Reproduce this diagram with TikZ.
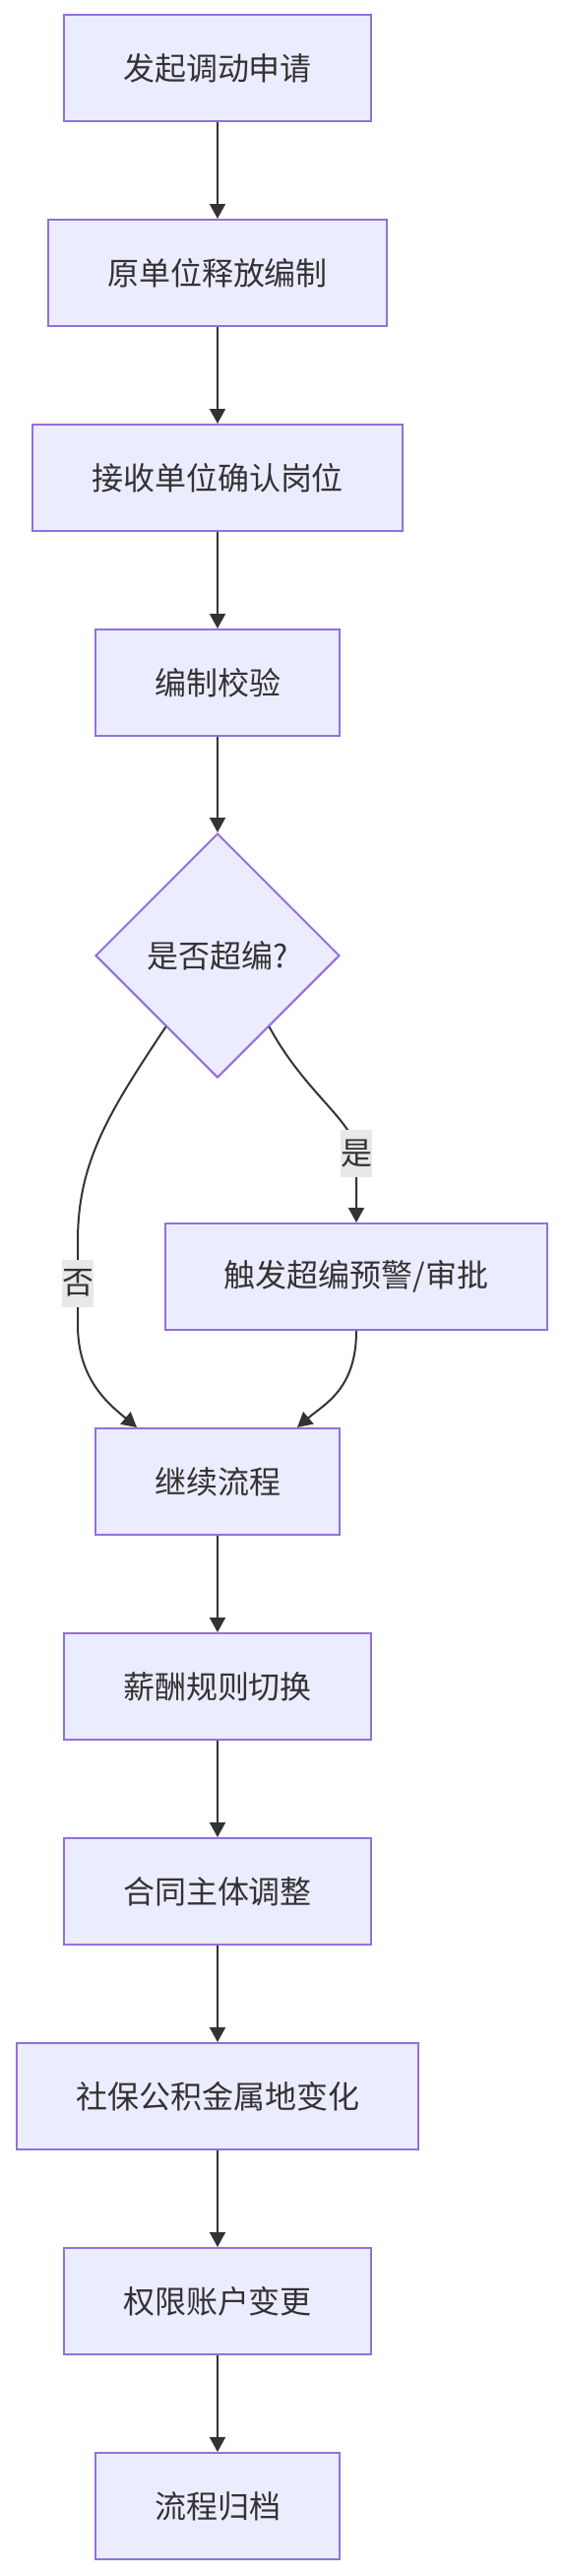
\documentclass[tikz,border=0pt]{standalone}
\usepackage{fontspec}
\setmainfont{Noto Sans CJK SC}
\usetikzlibrary{arrows.meta, shapes.geometric}
\definecolor{node-fill}{HTML}{ECECFF}
\definecolor{node-line}{HTML}{9370DB}
\definecolor{edge-gray}{HTML}{333333}
\definecolor{label-bg}{HTML}{E8E8E8}

\begin{document}
\begin{tikzpicture}[x=0.5pt, y=-0.5pt,
      every node/.style={font=\fontsize{16pt}{24pt}\selectfont, text=edge-gray},
      box/.style={draw=node-line, fill=node-fill, line width=1pt,
        minimum height=54pt, inner xsep=30pt},
      check/.style={diamond, aspect=1, draw=node-line, fill=node-fill,
        line width=1pt, minimum width=124pt, minimum height=124pt, inner sep=0pt},
      flow/.style={-{Triangle[length=7.5pt, width=8pt]}, line width=1pt, draw=edge-gray},
      tag/.style={fill=label-bg, inner xsep=0pt, inner ysep=0pt, minimum height=24pt}]
    \useasboundingbox (0,0) rectangle (573,2615);
    % main chain
    \node[box] (apply)   at (221,69)   {发起调动申请};
    \node[box] (release) at (221,277)  {原单位释放编制};
    \node[box] (confirm) at (221,485)  {接收单位确认岗位};
    \node[box] (verify)  at (221,693)  {编制校验};
    \node[check] (over)  at (221,970)  {是否超编?};
    \node[box] (warn)    at (362,1296) {触发超编预警/审批};
    \node[box] (cont)    at (221,1504) {继续流程};
    \node[box] (salary)  at (221,1712) {薪酬规则切换};
    \node[box] (contract) at (221,1920) {合同主体调整};
    \node[box] (social)  at (221,2128) {社保公积金属地变化};
    \node[box] (access)  at (221,2336) {权限账户变更};
    \node[box] (archive) at (221,2544) {流程归档};

    \draw[flow] (apply) -- (release);
    \draw[flow] (release) -- (confirm);
    \draw[flow] (confirm) -- (verify);
    \draw[flow] (verify) -- (over);
    % branches
    \draw[flow] (over.234) .. controls (110,1130) and (79,1180) .. (79,1260)
      -- node[tag] {否} (79,1345)
      .. controls (79,1400) and (110,1425) .. ([xshift=-41pt]cont.north);
    \draw[flow] (over.306) .. controls (310,1110) and (362,1140) .. (362,1171)
      node[tag] {是} -- (warn.north);
    \draw[flow] (warn.south) .. controls (362,1410) and (330,1425) .. ([xshift=40.5pt]cont.north);

    \draw[flow] (cont) -- (salary);
    \draw[flow] (salary) -- (contract);
    \draw[flow] (contract) -- (social);
    \draw[flow] (social) -- (access);
    \draw[flow] (access) -- (archive);
  \end{tikzpicture}
\end{document}
